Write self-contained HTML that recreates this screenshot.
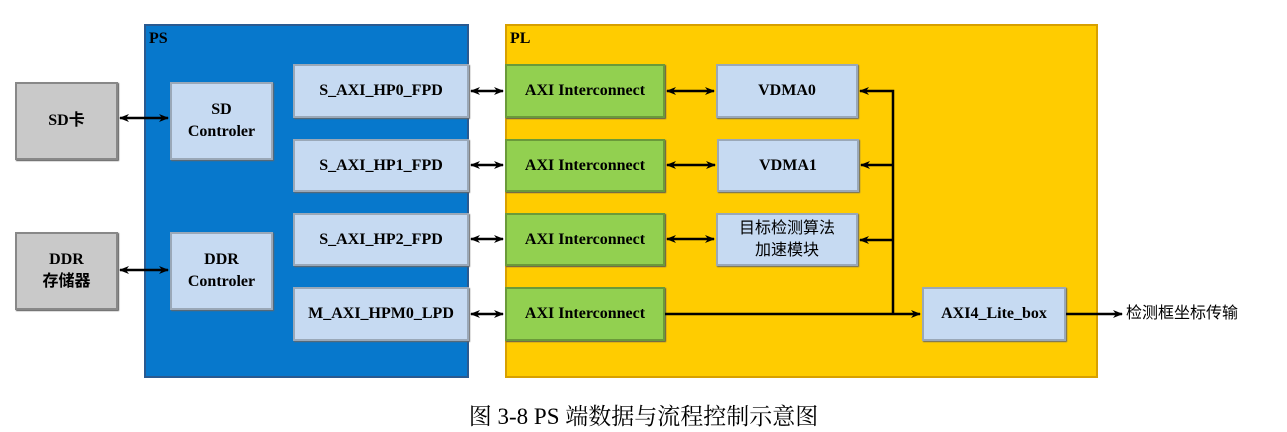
<!DOCTYPE html>
<html><head><meta charset="utf-8"><style>
body{margin:0;width:1287px;height:432px;background:#fff;position:relative;overflow:hidden;font-family:"Liberation Serif","Noto Serif CJK SC",serif}
.b{position:absolute;box-sizing:border-box;display:flex;align-items:center;justify-content:center;text-align:center;font-weight:bold;font-size:16px;line-height:22px;color:#000}
.lb{background:#c6daf2;border:2px solid #9aa8b8;box-shadow:1px 1px 1px #666}
.gr{background:#c9c9c9;border:2px solid #888;box-shadow:1px 1px 1px #555}
.gn{background:#92d050;border:2px solid #6a9a3a;box-shadow:1px 1px 1px #555}
.cj{font-family:"Liberation Serif","Noto Sans CJK SC",sans-serif}
svg{position:absolute;left:0;top:0}
</style></head><body>
<div class="b" style="left:144px;top:24px;width:325px;height:354px;background:#0778cc;border:2px solid #2a5a90;align-items:flex-start;justify-content:flex-start;padding:2px 3px">PS</div>
<div class="b" style="left:505px;top:24px;width:593px;height:354px;background:#ffcc00;border:2px solid #d8a000;align-items:flex-start;justify-content:flex-start;padding:2px 3px">PL</div>
<div class="b gr cj" style="left:15px;top:82px;width:103px;height:78px">SD卡</div>
<div class="b gr cj" style="left:15px;top:232px;width:103px;height:78px">DDR<br>存储器</div>
<div class="b lb" style="left:170px;top:82px;width:103px;height:78px">SD<br>Controler</div>
<div class="b lb" style="left:170px;top:232px;width:103px;height:78px">DDR<br>Controler</div>
<div class="b lb" style="left:293px;top:64px;width:176px;height:54px">S_AXI_HP0_FPD</div>
<div class="b lb" style="left:293px;top:139px;width:176px;height:53px">S_AXI_HP1_FPD</div>
<div class="b lb" style="left:293px;top:213px;width:176px;height:53px">S_AXI_HP2_FPD</div>
<div class="b lb" style="left:293px;top:287px;width:176px;height:54px">M_AXI_HPM0_LPD</div>
<div class="b gn" style="left:505px;top:64px;width:160px;height:54px">AXI Interconnect</div>
<div class="b gn" style="left:505px;top:139px;width:160px;height:53px">AXI Interconnect</div>
<div class="b gn" style="left:505px;top:213px;width:160px;height:53px">AXI Interconnect</div>
<div class="b gn" style="left:505px;top:287px;width:160px;height:54px">AXI Interconnect</div>
<div class="b lb" style="left:716px;top:64px;width:142px;height:54px">VDMA0</div>
<div class="b lb" style="left:717px;top:139px;width:142px;height:53px">VDMA1</div>
<div class="b lb cj" style="left:716px;top:213px;width:142px;height:53px;font-weight:normal">目标检测算法<br>加速模块</div>
<div class="b lb" style="left:922px;top:287px;width:144px;height:54px">AXI4_Lite_box</div>
<div class="b cj" style="left:1126px;top:302px;width:140px;height:24px;font-weight:normal;justify-content:flex-start">检测框坐标传输</div>
<svg width="1287" height="432">
<defs><marker id="a" markerWidth="10" markerHeight="8" refX="9" refY="4" orient="auto-start-reverse" markerUnits="userSpaceOnUse"><path d="M0,0L10,4L0,8L3,4Z" fill="#000"/></marker></defs>
<g stroke="#000" stroke-width="2.5" fill="none">
<line x1="120" y1="118" x2="168" y2="118" marker-start="url(#a)" marker-end="url(#a)"/>
<line x1="120" y1="270" x2="168" y2="270" marker-start="url(#a)" marker-end="url(#a)"/>
<line x1="471" y1="91" x2="503" y2="91" marker-start="url(#a)" marker-end="url(#a)"/>
<line x1="471" y1="165" x2="503" y2="165" marker-start="url(#a)" marker-end="url(#a)"/>
<line x1="471" y1="239" x2="503" y2="239" marker-start="url(#a)" marker-end="url(#a)"/>
<line x1="471" y1="314" x2="503" y2="314" marker-start="url(#a)" marker-end="url(#a)"/>
<line x1="667" y1="91" x2="714" y2="91" marker-start="url(#a)" marker-end="url(#a)"/>
<line x1="667" y1="165" x2="715" y2="165" marker-start="url(#a)" marker-end="url(#a)"/>
<line x1="667" y1="239" x2="714" y2="239" marker-start="url(#a)" marker-end="url(#a)"/>
<line x1="665" y1="314" x2="920" y2="314" marker-end="url(#a)"/>
<polyline points="893,314 893,91 860,91" marker-end="url(#a)"/>
<line x1="893" y1="165" x2="861" y2="165" marker-end="url(#a)"/>
<line x1="893" y1="240" x2="860" y2="240" marker-end="url(#a)"/>
<line x1="1066" y1="314" x2="1122" y2="314" marker-end="url(#a)"/>
</g></svg>
<div style="position:absolute;left:0;width:1287px;top:398px;text-align:center;font-size:23px;font-family:'Liberation Serif','Noto Serif CJK SC',serif">图 3-8 PS 端数据与流程控制示意图</div>
</body></html>
